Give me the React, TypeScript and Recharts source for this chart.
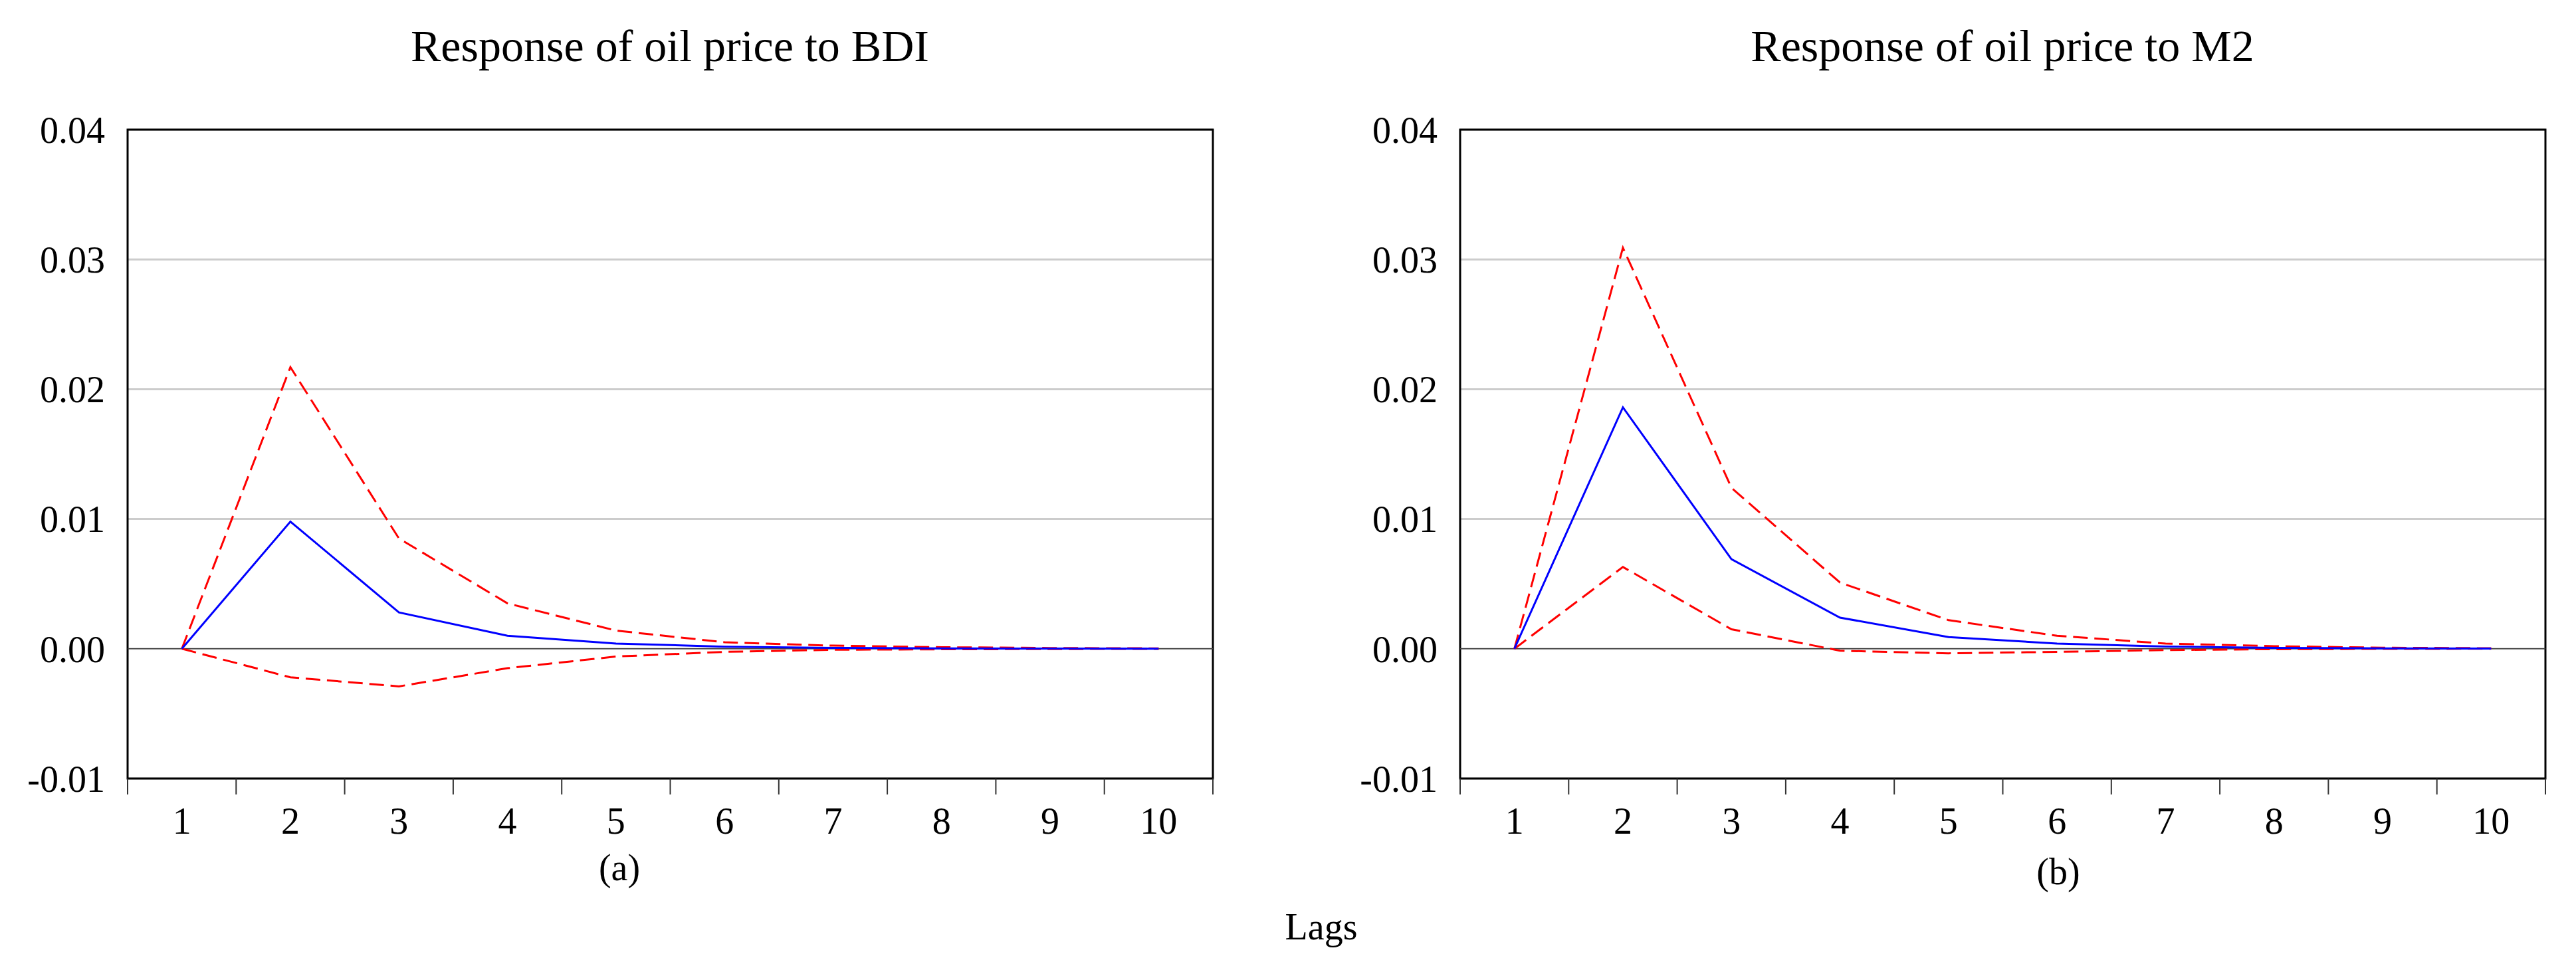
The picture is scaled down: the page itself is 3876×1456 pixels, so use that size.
import { LineChart, Line, XAxis, YAxis, CartesianGrid, ReferenceLine, ReferenceArea } from "recharts";

// Impulse responses of oil price, 10 lags, with the two-standard-error bands (dashed red).
const lags = [1, 2, 3, 4, 5, 6, 7, 8, 9, 10];

const bdiResponse = [0, 0.0098, 0.0028, 0.001, 0.0004, 0.00016, 0.00007, 0.00003, 0.00001, 0.000005];
const bdiUpper = [0, 0.0217, 0.0085, 0.0035, 0.0014, 0.0005, 0.00024, 0.00012, 0.00006, 0.00003];
const bdiLower = [0, -0.0022, -0.0029, -0.0015, -0.0006, -0.00024, -0.00008, -0.00004, -0.00002, -0.00001];

const m2Response = [0, 0.0186, 0.0069, 0.0024, 0.0009, 0.0004, 0.00017, 0.00007, 0.00003, 0.00001];
const m2Upper = [0, 0.0309, 0.0124, 0.0051, 0.0022, 0.001, 0.0004, 0.0002, 0.00008, 0.00004];
const m2Lower = [0, 0.0063, 0.0015, -0.00015, -0.00035, -0.00024, -0.0001, -0.00003, -0.00001, 0];

const yTicks = [-0.01, 0, 0.01, 0.02, 0.03, 0.04];
const titles = ["Response of oil price to BDI", "Response of oil price to M2"];
const panelLabels = ["(a)", "(b)"];
const axisTitle = "Lags";

const FONT = '"Liberation Serif", "Times New Roman", serif';
const xDomain: [number, number] = [lags[0] - 0.5, lags[lags.length - 1] + 0.5];
// tick marks sit on the boundaries between lags, labels in the middle
const boundaries = [...lags.map((l) => l - 0.5), lags[lags.length - 1] + 0.5];

function toRows(resp: number[], upper: number[], lower: number[]) {
  return lags.map((lag, i) => ({ lag, resp: resp[i], upper: upper[i], lower: lower[i] }));
}

type PanelProps = { data: ReturnType<typeof toRows>; left: number; width: number; marginLeft: number; marginRight: number };

function IrfPanel({ data, left, width, marginLeft, marginRight }: PanelProps) {
  const tickStyle = { fontFamily: FONT, fontSize: 56, fill: "#000" };
  return (
    <div style={{ position: "absolute", left, top: 0 }}>
      <LineChart width={width} height={1456} data={data} margin={{ top: 195, right: marginRight, left: marginLeft, bottom: 224 }}>
        <CartesianGrid vertical={false} stroke="#cccccc" strokeWidth={3} />
        <XAxis
          xAxisId="bounds"
          type="number"
          dataKey="lag"
          domain={xDomain}
          ticks={boundaries}
          interval={0}
          tickFormatter={() => ""}
          tickSize={24}
          tickLine={{ stroke: "#333", strokeWidth: 2 }}
          axisLine={false}
          height={1}
          allowDataOverflow
        />
        <XAxis
          xAxisId="labels"
          type="number"
          dataKey="lag"
          domain={xDomain}
          ticks={lags}
          interval={0}
          tick={tickStyle}
          tickLine={false}
          tickSize={0}
          tickMargin={42}
          axisLine={false}
          height={60}
          allowDataOverflow
        />
        <YAxis
          domain={[yTicks[0], yTicks[yTicks.length - 1]]}
          ticks={yTicks}
          interval={0}
          tickFormatter={(v: number) => v.toFixed(2)}
          tick={tickStyle}
          tickLine={false}
          tickSize={0}
          tickMargin={34}
          axisLine={false}
          width={150}
          allowDataOverflow
        />
        <ReferenceLine xAxisId="labels" y={0} stroke="#444" strokeWidth={1.5} />
        <Line xAxisId="labels" type="linear" dataKey="upper" stroke="#ff0000" strokeWidth={3} strokeDasharray="22 10" dot={false} isAnimationActive={false} />
        <Line xAxisId="labels" type="linear" dataKey="lower" stroke="#ff0000" strokeWidth={3} strokeDasharray="22 10" dot={false} isAnimationActive={false} />
        <Line xAxisId="labels" type="linear" dataKey="resp" stroke="#0000ff" strokeWidth={3} dot={false} isAnimationActive={false} />
        <ReferenceArea
          xAxisId="labels"
          x1={xDomain[0]}
          x2={xDomain[1]}
          y1={yTicks[0]}
          y2={yTicks[yTicks.length - 1]}
          fill="none"
          stroke="#000"
          strokeWidth={3}
          ifOverflow="visible"
        />
      </LineChart>
    </div>
  );
}

export default function App() {
  const textStyle = { fontFamily: FONT, fill: "#000" };
  return (
    <div style={{ position: "absolute", left: 0, top: 0, width: 3876, height: 1456, background: "#fff" }}>
      <IrfPanel data={toRows(bdiResponse, bdiUpper, bdiLower)} left={0} width={1900} marginLeft={42} marginRight={75} />
      <IrfPanel data={toRows(m2Response, m2Upper, m2Lower)} left={2000} width={1876} marginLeft={47} marginRight={46} />
      <svg width={3876} height={1456} style={{ position: "absolute", left: 0, top: 0, pointerEvents: "none" }}>
        <text x={1008} y={92} textAnchor="middle" fontSize={68} {...textStyle}>{titles[0]}</text>
        <text x={3013} y={92} textAnchor="middle" fontSize={68} {...textStyle}>{titles[1]}</text>
        <text x={932} y={1324} textAnchor="middle" fontSize={56} {...textStyle}>{panelLabels[0]}</text>
        <text x={3097} y={1330} textAnchor="middle" fontSize={56} {...textStyle}>{panelLabels[1]}</text>
        <text x={1988} y={1413} textAnchor="middle" fontSize={56} {...textStyle}>{axisTitle}</text>
      </svg>
    </div>
  );
}
